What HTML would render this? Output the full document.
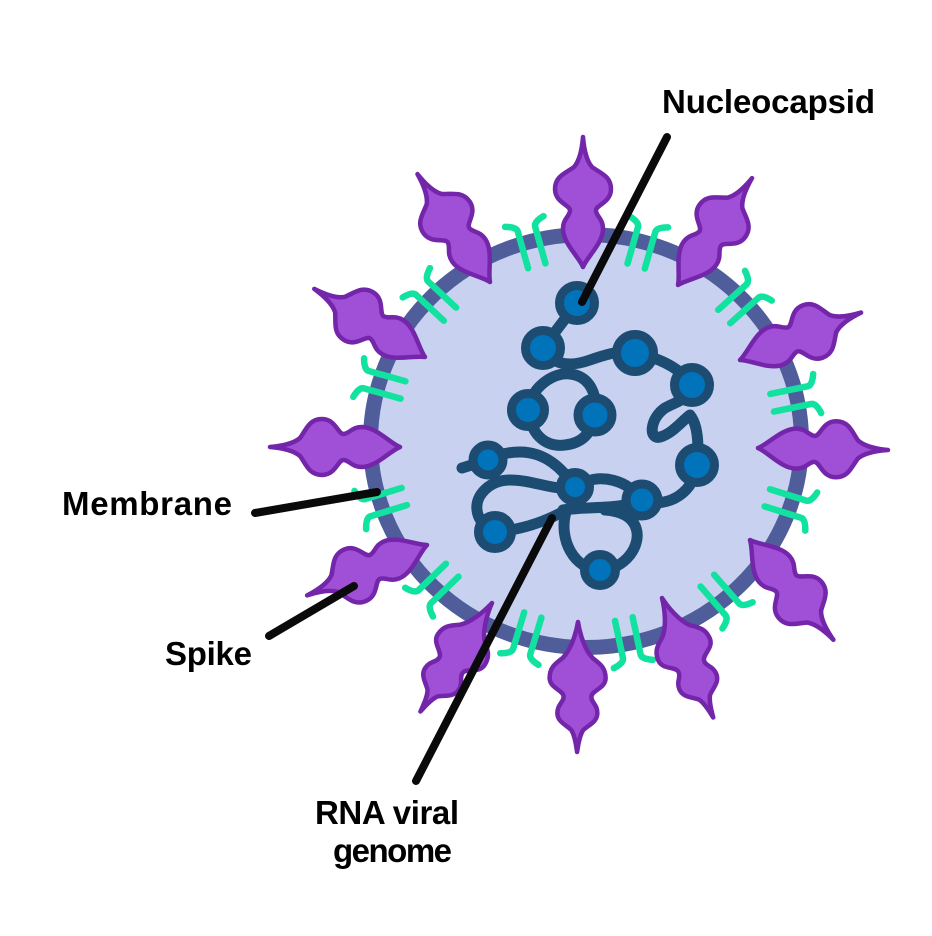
<!DOCTYPE html>
<html>
<head>
<meta charset="utf-8">
<style>
  html, body { margin:0; padding:0; background:#ffffff; }
  body { width:932px; height:936px; overflow:hidden; }
  svg { display:block; }
  text { font-family:"Liberation Sans", Arial, sans-serif; font-weight:bold; font-size:33px; fill:#000; }
</style>
</head>
<body>
<svg width="932" height="936" viewBox="0 0 932 936" xmlns="http://www.w3.org/2000/svg">
  <defs>
    <path id="spA" d="M0,0 C10,-4 24,-20 38,-20 C48,-20 50,-14 56,-13 C62,-12 64,-28 78,-28 C91,-28 94,-17 100,-9 C107,-3 118,-1 130,0 C118,1 107,3 100,9 C94,17 91,28 78,28 C64,28 62,12 56,13 C50,14 48,20 38,20 C24,20 10,4 0,0 Z"/>
    <path id="spB" d="M0,0 C12,-2 28,-7 36,-15 C42,-23 46,-28 56,-28 C66,-28 68,-15 74,-14 C80,-13 82,-20 91,-20 C100,-20 103,-11 108,-6 C114,-2 124,-1 130,0 C124,1 114,2 108,6 C103,11 100,20 91,20 C82,20 80,13 74,14 C68,15 66,28 56,28 C46,28 42,23 36,15 C28,7 12,2 0,0 Z"/>
    <g id="mp">
      <path d="M-25,-9 L13,-9 Q18,-9 21,-20"/>
      <path d="M-25,9 L13,9 Q18,9 21,20"/>
    </g>
  </defs>

  <!-- virion body -->
  <ellipse cx="586" cy="441" rx="215.5" ry="206.5" fill="#c9d1f1" stroke="#4f5e9b" stroke-width="15"/>

  <!-- membrane proteins (green pairs) -->
  <g fill="none" stroke="#12e2a0" stroke-width="6.5" stroke-linecap="round" stroke-linejoin="round">
    <use href="#mp" transform="translate(586,441) rotate(-105.7) translate(207,0)"/>
    <use href="#mp" transform="translate(586,441) rotate(-74) translate(207,0)"/>
    <use href="#mp" transform="translate(586,441) rotate(-137) translate(211,0)"/>
    <use href="#mp" transform="translate(586,441) rotate(-164.4) translate(215,0)"/>
    <use href="#mp" transform="translate(586,441) rotate(163) translate(215,0)"/>
    <use href="#mp" transform="translate(586,441) rotate(136) translate(211,0)"/>
    <use href="#mp" transform="translate(586,441) rotate(107) translate(207,0)"/>
    <use href="#mp" transform="translate(586,441) rotate(78) translate(207,0)"/>
    <use href="#mp" transform="translate(586,441) rotate(49) translate(210,0)"/>
    <use href="#mp" transform="translate(586,441) rotate(17.4) translate(215,0)"/>
    <use href="#mp" transform="translate(586,441) rotate(-11.6) translate(215,0)"/>
    <use href="#mp" transform="translate(586,441) rotate(-42) translate(211,0)"/>
  </g>

  <!-- spikes -->
  <g fill="#a04fd7" stroke="#7326a9" stroke-width="4.5" stroke-linejoin="round">
    <use href="#spA" transform="translate(583,267) rotate(-90)"/>
    <use href="#spA" transform="translate(490,282) rotate(-123.9)"/>
    <use href="#spA" transform="translate(425,357) rotate(-148.4)"/>
    <use href="#spA" transform="translate(400,447) rotate(180)"/>
    <use href="#spA" transform="translate(427,545) rotate(157.2)"/>
    <use href="#spB" transform="translate(492,603) rotate(123.4)"/>
    <use href="#spB" transform="translate(578,622) rotate(90.4)"/>
    <use href="#spB" transform="translate(662,598) rotate(66.8)"/>
    <use href="#spA" transform="translate(750,540) rotate(50.1)"/>
    <use href="#spA" transform="translate(758,448) rotate(0.9)"/>
    <use href="#spA" transform="translate(740,360) rotate(-21.4)"/>
    <use href="#spA" transform="translate(678,285) rotate(-55.3)"/>
  </g>

  <!-- RNA genome strands -->
  <g fill="none" stroke="#1c4c72" stroke-width="11" stroke-linecap="round" stroke-linejoin="round">
    <path d="M577,303 L543,348"/>
    <path d="M543,348 Q556,372 590,360 T635,353"/>
    <path d="M528,410 C532,385 555,372 570,374 C590,376 598,395 595,415"/>
    <path d="M528,410 C532,440 550,447 565,445 C583,443 592,432 595,415"/>
    <path d="M635,353 C660,358 680,368 692,385"/>
    <path d="M692,385 C690,400 675,402 665,408 C650,418 648,440 660,437 C672,434 683,420 690,415 C698,425 699,445 697,465"/>
    <path d="M697,465 C695,490 670,510 642,500"/>
    <path d="M642,500 C630,482 600,470 575,487"/>
    <path d="M563,510 C590,506 620,510 642,500"/>
    <path d="M566,512 C558,540 575,570 600,570 C625,570 642,545 636,528 C632,516 620,511 605,510"/>
    <path d="M575,487 C562,468 545,452 520,452 C505,452 495,456 488,460 L462,468"/>
    <path d="M575,487 C555,492 535,480 510,480 C490,480 475,495 477,510 C478,520 485,527 495,532"/>
    <path d="M495,532 C520,530 545,522 566,510"/>
  </g>

  <!-- nucleocapsid nodes -->
  <g fill="#0073bb" stroke="#1c4c72" stroke-width="9">
    <circle cx="577" cy="303" r="17.5"/>
    <circle cx="543" cy="348" r="17.5"/>
    <circle cx="635" cy="353" r="18.5"/>
    <circle cx="692" cy="385" r="17.5"/>
    <circle cx="528" cy="410" r="16.5"/>
    <circle cx="595" cy="415" r="17"/>
    <circle cx="697" cy="465" r="17.5"/>
    <circle cx="488" cy="460" r="15"/>
    <circle cx="575" cy="487" r="14.5"/>
    <circle cx="642" cy="500" r="16"/>
    <circle cx="495" cy="532" r="16.5"/>
    <circle cx="600" cy="570" r="15.5"/>
  </g>

  <!-- label leader lines -->
  <g stroke="#0a0a0a" stroke-width="8" stroke-linecap="round">
    <line x1="667" y1="137" x2="582" y2="302"/>
    <line x1="255" y1="513" x2="377" y2="492"/>
    <line x1="269" y1="636" x2="354" y2="586"/>
    <line x1="416" y1="781" x2="552" y2="518"/>
  </g>

  <!-- labels -->
  <text x="662" y="113" textLength="213">Nucleocapsid</text>
  <text x="62" y="515" textLength="170">Membrane</text>
  <text x="165" y="665" textLength="87">Spike</text>
  <text x="315" y="824" textLength="144">RNA viral</text>
  <text x="333" y="862" textLength="119">genome</text>
</svg>
</body>
</html>
